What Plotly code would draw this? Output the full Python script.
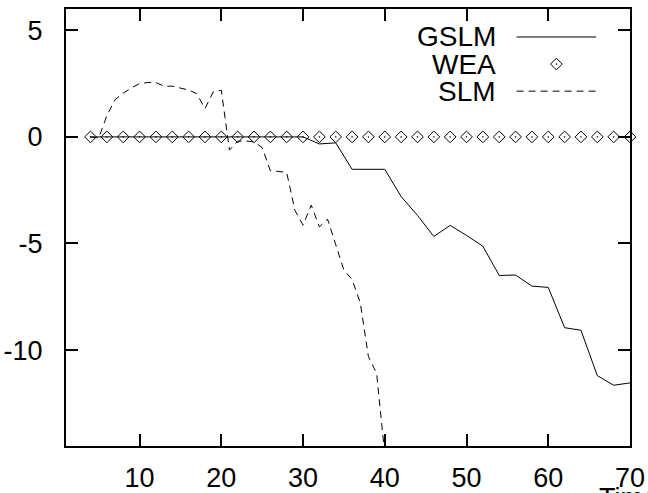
import plotly.graph_objects as go

# ---- data ----
wea_x = list(range(4, 71, 2))
wea_y = [0.0] * len(wea_x)

gslm_x = list(range(4, 71, 2))
gslm_y = [0, 0, 0, 0, 0, 0, 0, 0, 0, 0, 0, 0, 0, 0,   # 4..30
          -0.33, -0.28, -1.52, -1.52, -1.52, -2.8, -3.68, -4.67, -4.15, -4.62,
          -5.13, -6.5, -6.48, -7.0, -7.06, -8.95, -9.07, -11.2, -11.65, -11.54]

slm_x = list(range(4, 41))
slm_y = [0.0, -0.05, 1.0, 1.75, 2.05, 2.3, 2.5, 2.55, 2.55, 2.38, 2.38, 2.3, 2.2,
         2.03, 1.33, 2.11, 2.19, -0.62, -0.2, -0.19, -0.23, -0.5, -1.59, -1.62,
         -1.67, -3.44, -4.14, -3.2, -4.22, -3.86, -5.05, -6.25, -6.69, -7.78,
         -10.31, -11.09, -14.9]

x_ticks = [10, 20, 30, 40, 50, 60, 70]
x_tick_labels = ["10", "20", "30", "40", "50", "60", "70"]
y_ticks = [-10, -5, 0, 5]
y_tick_labels = ["-10", "-5", "0", "5"]
legend_names = ["GSLM", "WEA", "SLM"]

FONT = "Liberation Sans, Arial, Helvetica, sans-serif"
FS = 27
DASH = "7px,5px"

fig = go.Figure()
fig.add_trace(go.Scatter(x=gslm_x, y=gslm_y, mode="lines",
                         line=dict(color="black", width=1), showlegend=False))
fig.add_trace(go.Scatter(x=slm_x, y=slm_y, mode="lines",
                         line=dict(color="black", width=1, dash=DASH), showlegend=False))
fig.add_trace(go.Scatter(x=wea_x, y=wea_y, mode="markers", cliponaxis=False,
                         marker=dict(symbol="diamond-open-dot", size=9, color="black",
                                     line=dict(width=1, color="black")),
                         showlegend=False))

# ---- custom gnuplot-style key (on hidden overlay axes) ----
key_y = [0.936, 0.874, 0.812]
kx0, kx1 = 0.799, 0.940
fig.add_trace(go.Scatter(x=[kx0, kx1], y=[key_y[0]] * 2, mode="lines", xaxis="x2", yaxis="y2",
                         line=dict(color="black", width=1), showlegend=False, hoverinfo="skip"))
fig.add_trace(go.Scatter(x=[(kx0 + kx1) / 2], y=[key_y[1]], mode="markers", xaxis="x2", yaxis="y2",
                         marker=dict(symbol="diamond-open-dot", size=9, color="black",
                                     line=dict(width=1, color="black")),
                         showlegend=False, hoverinfo="skip"))
fig.add_trace(go.Scatter(x=[kx0, kx1], y=[key_y[2]] * 2, mode="lines", xaxis="x2", yaxis="y2",
                         line=dict(color="black", width=1, dash=DASH), showlegend=False, hoverinfo="skip"))
for name, ky in zip(legend_names, key_y):
    fig.add_annotation(x=0.766, y=ky, xref="x2", yref="y2", text=name, showarrow=False,
                       xanchor="right", yanchor="middle",
                       font=dict(family=FONT, size=28, color="black"))

# clipped x-axis label at the bottom-right corner (only its top shows, as in the reference)
fig.add_annotation(x=0.941, y=-0.08, xref="paper", yref="paper", text="Time", showarrow=False,
                   xanchor="left", yanchor="top", font=dict(family=FONT, size=FS, color="black"))

axis_common = dict(showgrid=False, zeroline=False, showline=True, linecolor="black", linewidth=2,
                   mirror="ticks", ticks="inside", ticklen=12, tickwidth=2, tickcolor="black",
                   automargin=False,
                   tickfont=dict(family=FONT, size=FS, color="black"))

fig.update_layout(
    width=648, height=493,
    margin=dict(l=66, r=18, t=9, b=47),
    paper_bgcolor="white", plot_bgcolor="white",
    showlegend=False,
    xaxis=dict(range=[1, 70], tickvals=x_ticks, ticktext=x_tick_labels,
               ticklabelstandoff=7, **axis_common),
    yaxis=dict(range=[-14.5, 6], tickvals=y_ticks, ticktext=y_tick_labels,
               ticklabelstandoff=16, **axis_common),
    xaxis2=dict(range=[0, 1], overlaying="x", visible=False),
    yaxis2=dict(range=[0, 1], overlaying="y", visible=False),
)

fig.write_html("out.html", config={"displayModeBar": False},
               post_script="document.body.style.margin='0';document.body.style.overflow='hidden';")
